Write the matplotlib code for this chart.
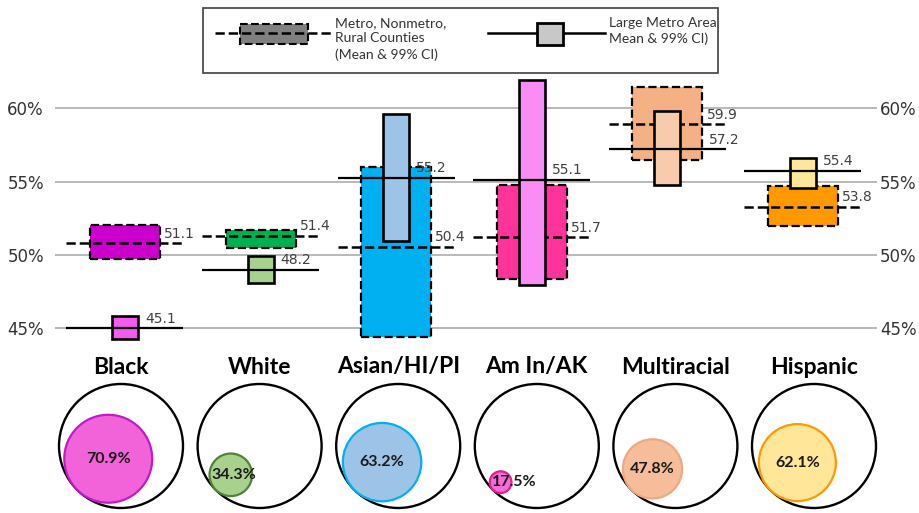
import numpy as np
import matplotlib.pyplot as plt
from matplotlib.patches import Circle, Rectangle


groups = ['Black', 'White', 'Asian/HI/PI', 'Am In/AK', 'Multiracial', 'Hispanic']

# Metro, Nonmetro, Rural counties (dashed boxes): mean line and 99% CI
metro_mean = [50.8, 51.3, 50.55, 51.2, 58.9, 53.3]
metro_lo = [49.75, 50.5, 44.4, 48.35, 56.5, 52.0]
metro_hi = [52.05, 51.7, 56.0, 54.75, 61.45, 54.7]
metro_labels = ['51.1', '51.4', '50.4', '51.7', '59.9', '53.8']

# Large metro area (solid boxes)
large_mean = [45.0, 49.0, 55.25, 55.1, 57.2, 55.75]
large_lo = [44.3, 48.1, 50.95, 47.95, 54.75, 54.55]
large_hi = [45.85, 49.95, 59.6, 61.95, 59.8, 56.6]
large_labels = ['45.1', '48.2', '55.2', '55.1', '57.2', '55.4']

# share shown by the inner circles
pct = [70.9, 34.3, 63.2, 17.5, 47.8, 62.1]

yticks = [45, 50, 55, 60]

metro_colors = ['#CC00CC', '#00B050', '#00B0F0', '#FF3399', '#F4B183', '#FF9900']
large_colors = ['#F35CF0', '#A9D18E', '#9DC3E6', '#F98CF5', '#F8CBAD', '#FFE699']
circle_fill = ['#F262D9', '#A9D18E', '#9DC3E6', '#F76CD8', '#F5BD9A', '#FFE699']
circle_edge = ['#C21BC6', '#548235', '#00B0F0', '#E0218A', '#F0A880', '#FF9900']

x = np.arange(len(groups))

fig = plt.figure(figsize=(9.2, 5.13), dpi=100)

# pixel-unit canvas for legend, group names and circles
bg = fig.add_axes([0, 0, 1, 1])
bg.set_xlim(0, 920)
bg.set_ylim(513, 0)
bg.axis('off')

ax = fig.add_axes([55 / 920, 168 / 513, 822 / 920, 270 / 513])
ax.patch.set_visible(False)
ax.set_xlim(-0.516, 5.546)
ax.set_ylim(43.87, 62.27)

box_w = 0.516
bar_w = 0.192
line_w = 0.863

ax.bar(x, np.array(metro_hi) - np.array(metro_lo), bottom=metro_lo, width=box_w,
       color=metro_colors, edgecolor='black', linestyle='--', linewidth=1.6, zorder=2)
ax.hlines(metro_mean, x - line_w / 2, x + line_w / 2, colors='black',
          linestyles='--', linewidth=1.8, zorder=3)
ax.bar(x, np.array(large_hi) - np.array(large_lo), bottom=large_lo, width=bar_w,
       color=large_colors, edgecolor='black', linewidth=1.9, zorder=4)
ax.hlines(large_mean, x - line_w / 2, x + line_w / 2, colors='black',
          linewidth=1.6, zorder=5)

for i in x:
    ax.annotate(metro_labels[i], xy=(i + box_w / 2, metro_mean[i]), xytext=(3, 2),
                textcoords='offset points', ha='left', va='bottom',
                fontsize=10, color='#404040', zorder=6)
    lab_y = large_mean[i] + 0.8
    if metro_lo[i] <= lab_y <= metro_hi[i]:
        edge = i + box_w / 2
    else:
        edge = i + bar_w / 2
    ax.annotate(large_labels[i], xy=(edge, large_mean[i]), xytext=(5, 2),
                textcoords='offset points', ha='left', va='bottom',
                fontsize=10, color='#404040', zorder=6)

ax.set_yticks(yticks)
ax.set_yticklabels([f'{v}%' for v in yticks])
ax.set_xticks([])
ax.yaxis.grid(True, color='#A6A6A6', linewidth=1.1)
ax.set_axisbelow(True)
ax.tick_params(axis='y', length=0, labelsize=12, labelcolor='#333333', pad=8)
for s in ax.spines.values():
    s.set_visible(False)

# same percent labels on the right side
axr = ax.twinx()
axr.set_ylim(ax.get_ylim())
axr.set_yticks(yticks)
axr.set_yticklabels([f'{v}%' for v in yticks])
axr.tick_params(axis='y', length=0, labelsize=12, labelcolor='#333333', pad=2)
for s in axr.spines.values():
    s.set_visible(False)

# legend box
bg.add_patch(Rectangle((203, 8), 515, 65, facecolor='white', edgecolor='#404040', lw=1.2))
bg.add_patch(Rectangle((240, 24), 68, 20, facecolor='#808080', edgecolor='black',
                       linestyle='--', lw=1.5, zorder=2))
bg.plot([215, 332], [33, 33], color='black', ls='--', lw=1.8, zorder=3)
bg.text(335, 17, 'Metro, Nonmetro,\nRural Counties\n(Mean & 99% CI)', family='Lato',
        fontsize=10, color='#333333', va='top', ha='left', linespacing=1.35)
bg.plot([488, 605], [33, 33], color='black', lw=1.8, zorder=2)
bg.add_patch(Rectangle((537, 23), 26, 22, facecolor='#C8C8C8', edgecolor='black',
                       lw=2, zorder=3))
bg.text(609, 17, 'Large Metro Area\nMean & 99% CI)', family='Lato',
        fontsize=10, color='#333333', va='top', ha='left', linespacing=1.35)

# group names and circles
R = 62
cy = 446
ang = np.deg2rad(45)
for i, g in enumerate(groups):
    cx = 121 + 138.6 * i
    bg.text(cx, 367, g, family='Lato', fontweight='bold', fontsize=16.5,
            ha='center', va='center', color='black')
    bg.add_patch(Circle((cx, cy), R, facecolor='none', edgecolor='black', lw=1.7))
    r = pct[i] / 100 * R
    icx = cx - (R - r) * np.cos(ang)
    icy = cy + (R - r) * np.sin(ang)
    bg.add_patch(Circle((icx, icy), r, facecolor=circle_fill[i],
                        edgecolor=circle_edge[i], lw=1.6))
    tx = max(icx, icx - r + 24)
    bg.text(tx, icy, f'{pct[i]}%', family='Lato', fontweight='bold', fontsize=11.5,
            ha='center', va='center', color='#1a1a1a')

fig.savefig('out.png', dpi=100)
